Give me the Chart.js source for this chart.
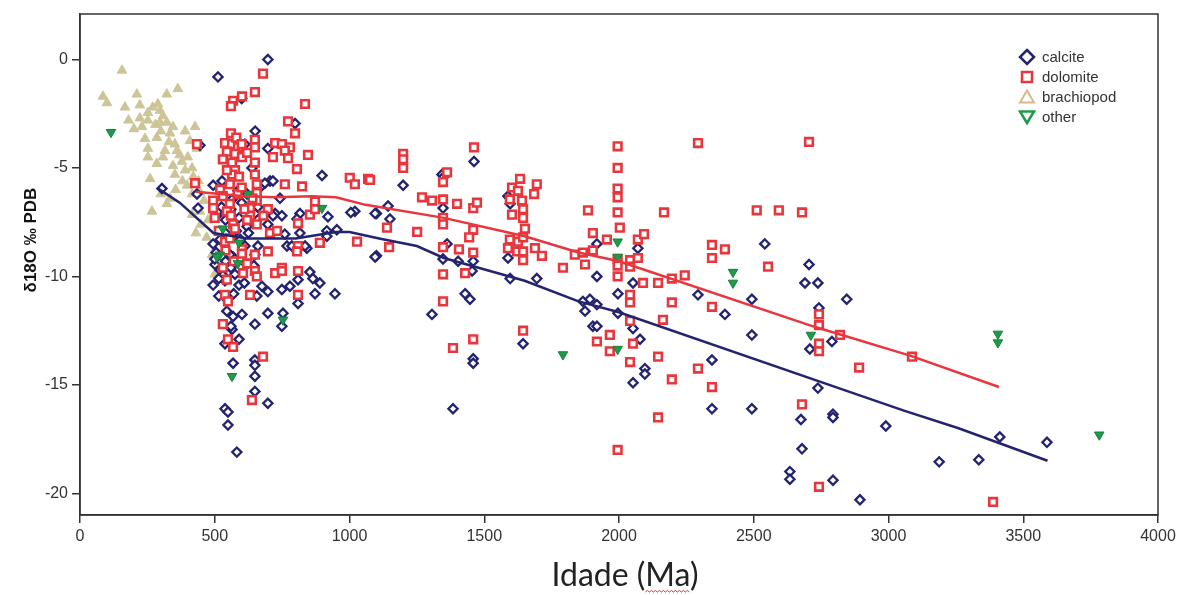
<!DOCTYPE html>
<html>
<head>
<meta charset="utf-8">
<script src="https://cdn.jsdelivr.net/npm/chart.js@4.4.1/dist/chart.umd.min.js"></script>
<style>
  html, body { margin: 0; padding: 0; background: #ffffff; }
  #wrap { width: 1180px; height: 595px; position: relative; }
</style>
</head>
<body>
<div id="wrap"><canvas id="c" width="1180" height="595"></canvas></div>
<script>
// ---------------- DATA ----------------
const xTicks = [0, 500, 1000, 1500, 2000, 2500, 3000, 3500, 4000];
const yTicks = [-20, -15, -10, -5, 0];
const seriesNames = ['calcite', 'dolomite', 'brachiopod', 'other'];

const calciteAge = [697,512,600,798,650,445,612,697,898,638,705,668,494,527,586,434,438,508,512,742,
  724,749,816,920,1020,1100,697,768,916,816,1100,494,568,649,842,545,612,916,501,556,
  619,494,538,675,697,656,749,779,809,853,864,890,872,946,809,545,568,601,697,649,
  753,749,564,538,568,649,649,649,649,697,538,549,549,582,649,716,805,564,760,953,
  786,835,660,686,716,1462,1343,1199,1143,1095,1150,1095,1347,1362,1347,1403,1459,1455,1429,1447,
  1306,1459,1459,1384,1588,1596,1588,1596,1695,1644,1918,1918,1866,1892,1918,1874,1903,1918,1996,1996,
  2070,2052,2052,2078,2096,2096,2052,2293,2393,2345,2345,2493,2493,2493,2541,2705,2690,2738,2742,2708,
  2790,2738,2675,2679,2634,2634,2794,2794,2794,2845,2990,2894,3188,3335,3413,3588,304,
  520,530,515,540,560,575,505,550,580,540,525,560,590,620,600,620,660,500,590,570,
  610,625,540,520,595,560,590,540,515,1005,1350,645];
const calciteD18O = [0.0,-0.8,-1.8,-2.95,-3.3,-3.95,-3.9,-4.1,-5.35,-5.0,-5.6,-5.9,-5.8,-5.6,-6.05,-6.2,-6.85,-7.2,-7.0,-6.4,
  -7.1,-7.2,-7.1,-7.25,-7.0,-7.1,-7.6,-8.6,-7.9,-8.0,-9.05,-8.5,-9.1,-9.0,-8.7,-8.85,-8.6,-8.15,-9.45,-9.0,
  -9.45,-10.4,-10.2,-10.45,-10.7,-10.9,-10.6,-10.45,-10.15,-9.8,-10.1,-10.3,-10.8,-10.8,-11.25,-11.6,-11.85,-11.75,-11.7,-12.2,
  -11.7,-12.3,-12.45,-13.1,-14.0,-13.85,-14.1,-14.6,-15.3,-15.85,-16.1,-16.25,-16.85,-18.1,-7.1,-7.2,-7.35,-6.45,-8.05,-7.85,
  -8.6,-8.6,-8.6,-5.7,-5.6,-4.7,-5.3,-5.8,-6.75,-7.1,-7.35,-9.1,-6.85,-8.5,-9.2,-9.3,-9.3,-9.75,-10.8,-11.05,
  -11.75,-13.8,-14.0,-16.1,-6.3,-6.65,-9.15,-10.1,-10.1,-13.1,-8.5,-10.0,-11.15,-11.05,-11.3,-11.6,-12.3,-12.3,-10.8,-11.7,
  -8.7,-10.3,-12.4,-12.9,-14.25,-14.5,-14.9,-10.85,-11.75,-13.85,-16.1,-11.05,-12.7,-16.1,-8.5,-9.45,-10.3,-10.3,-11.45,-13.35,
  -13.0,-15.15,-16.6,-17.95,-19.0,-19.35,-16.35,-16.5,-19.4,-11.05,-16.9,-20.3,-18.55,-18.45,-17.4,-17.65,-5.95,
  -9.7,-9.95,-10.1,-9.3,-9.6,-9.9,-8.9,-8.2,-7.9,-7.4,-6.8,-6.9,-7.3,-7.7,-6.6,-6.2,-6.8,-9.2,-10.4,-10.8,
  -10.3,-8.0,-8.0,-8.3,-8.3,-12.3,-12.9,-11.0,-10.9,-7.05,-5.4,-9.5];

const dolomiteAge = [679,649,601,568,560,835,772,798,560,538,649,724,749,564,586,649,545,779,575,716,
  760,846,564,601,649,772,805,575,1001,1020,1069,824,872,853,872,760,697,494,494,556,
  631,631,656,656,656,649,556,564,568,575,656,705,731,809,809,890,1028,538,601,749,
  697,434,427,530,605,649,656,724,749,809,545,538,549,631,809,530,549,568,679,638,
  556,601,649,805,1462,1199,1199,1199,1362,1347,1076,1269,1306,1347,1399,1459,1473,1347,1347,1139,
  1251,1147,1459,1444,1347,1406,1459,1429,1347,1347,1459,1384,1633,1695,1603,1625,1685,1595,1640,1644,
  1603,1644,1651,1595,1625,1644,1588,1622,1644,1688,1714,1644,1644,1885,1903,1955,1836,1866,1903,1792,
  1874,1966,1918,1966,1995,1995,1995,1995,1995,2003,1995,1995,1995,1995,2041,2041,2041,2041,2070,2093,
  2070,2089,2041,2052,2041,2145,2145,2145,2163,2196,2196,2244,2196,2167,2293,2293,2345,2345,2393,2345,
  2345,2511,2593,2679,2705,2553,2679,2742,2742,2742,2742,2820,2742,2891,3087,3388,
  520,530,545,560,585,590,600,610,620,640,545,530,580,600,620,500,515,540,570,620,680];
const dolomiteD18O = [-0.65,-1.5,-1.7,-1.9,-2.15,-2.05,-2.85,-3.4,-3.4,-3.85,-3.7,-3.85,-3.9,-3.9,-4.05,-4.05,-4.25,-4.05,-4.35,-4.5,
  -4.2,-4.4,-4.75,-4.5,-4.75,-4.55,-5.05,-5.1,-5.45,-5.75,-5.5,-5.85,-6.55,-7.15,-6.9,-5.75,-6.9,-6.5,-6.85,-6.65,
  -6.85,-7.2,-6.5,-6.15,-5.75,-5.3,-5.75,-5.3,-7.6,-7.8,-7.6,-8.0,-7.9,-7.55,-8.6,-8.45,-8.4,-8.4,-8.75,-9.6,
  -8.85,-3.9,-5.7,-9.6,-9.85,-9.75,-10.0,-9.85,-9.75,-9.75,-10.15,-10.85,-11.15,-10.85,-10.85,-12.2,-12.9,-13.25,-13.7,-15.7,
  -8.25,-8.95,-9.0,-8.85,-4.05,-4.35,-4.6,-5.0,-5.2,-5.65,-5.55,-6.35,-6.5,-6.45,-6.65,-6.85,-6.6,-7.3,-7.6,-7.75,
  -7.95,-8.65,-7.85,-8.2,-8.65,-8.75,-8.9,-9.85,-9.9,-11.15,-12.9,-13.3,-5.5,-5.75,-5.9,-6.05,-6.2,-6.45,-6.5,-6.9,
  -7.15,-7.3,-7.8,-8.3,-8.4,-8.2,-8.7,-8.85,-8.85,-8.7,-9.05,-9.25,-12.5,-6.95,-8.0,-8.3,-9.0,-8.9,-8.8,-9.6,
  -9.45,-12.7,-13.0,-13.45,-4.0,-5.0,-5.95,-6.35,-7.05,-7.75,-9.2,-9.5,-10.0,-18.0,-9.25,-9.55,-10.85,-11.2,-8.3,-8.05,
  -9.15,-10.3,-12.05,-13.1,-13.95,-10.3,-13.7,-16.5,-12.0,-10.1,-11.2,-9.95,-14.75,-7.05,-3.85,-14.25,-8.55,-9.15,-8.75,-11.4,
  -15.1,-6.95,-6.95,-7.05,-3.8,-9.55,-15.9,-11.75,-12.25,-13.1,-13.45,-12.7,-19.7,-14.2,-13.7,-20.4,
  -6.0,-6.3,-7.0,-7.2,-6.2,-5.4,-5.9,-6.9,-7.4,-6.4,-5.1,-4.6,-3.6,-3.9,-4.3,-7.3,-7.9,-8.8,-9.3,-9.4,-7.2];

const brachiopodAge = [156,85,100,211,167,222,322,363,289,297,308,252,222,252,322,297,345,334,390,427,
  241,285,252,315,352,360,408,434,252,285,308,345,378,390,352,260,416,397,334,322,
  267,416,445,445,416,448,470,490,500,430,270,280,300,330,370,400,420,440,380,355,
  300,460,475,180,200,230];
const brachiopodD18O = [-0.5,-1.7,-2.0,-1.6,-2.2,-2.1,-1.6,-1.35,-2.05,-2.35,-2.6,-2.45,-2.7,-2.8,-2.9,-2.9,-3.1,-3.4,-3.3,-3.1,
  -3.65,-3.6,-4.1,-4.2,-3.9,-4.2,-3.75,-4.1,-4.5,-4.8,-4.5,-4.9,-4.7,-5.1,-5.3,-5.5,-5.0,-5.8,-6.4,-6.65,
  -7.0,-6.2,-6.1,-7.0,-7.15,-7.6,-8.2,-9.0,-9.9,-8.0,-2.2,-3.0,-3.3,-3.8,-4.4,-4.5,-5.4,-5.6,-5.6,-6.0,
  -6.2,-6.5,-7.4,-2.8,-3.2,-3.1];

const otherAge = [115,623,898,530,590,519,586,753,564,1792,1995,1995,1995,2423,2423,2712,3406,3406,3782,508];
const otherD18O = [-3.35,-6.2,-6.85,-7.8,-8.45,-9.0,-9.4,-12.0,-14.6,-13.6,-8.4,-9.1,-13.35,-9.8,-10.3,-12.7,-12.65,-13.05,-17.3,-9.1];

// trend lines
const calciteTrendAge = [290,370,495,620,800,950,1000,1110,1250,1350,1650,1850,2000,2850,3060,3260,3590];
const calciteTrendD18O = [-5.95,-6.6,-8.0,-8.25,-8.25,-7.95,-7.95,-8.25,-8.6,-9.15,-10.2,-11.15,-11.65,-15.3,-16.2,-17.0,-18.5];
const dolomiteTrendAge = [430,610,725,860,950,1060,1350,1650,1850,2000,2720,3080,3410];
const dolomiteTrendD18O = [-6.1,-6.3,-6.35,-6.3,-6.35,-6.7,-7.3,-8.15,-8.9,-9.3,-12.3,-13.65,-15.1];

// ---------------- STYLE ----------------
const NAVY = '#23236f';
const RED = '#e8363d';
const TAN = '#cdc597';
const GREEN = '#1f9a4a';
const AXIS = '#333333';

const pts = (xs, ys) => xs.map((x, i) => ({ x: x, y: ys[i] }));

const framePlugin = {
  id: 'frame',
  afterDraw(chart) {
    const { ctx, chartArea: a } = chart;
    ctx.save();
    ctx.strokeStyle = AXIS;
    ctx.lineWidth = 1.5;
    ctx.strokeRect(a.left, a.top, a.right - a.left, a.bottom - a.top);

    // y title
    ctx.fillStyle = '#111';
    ctx.font = 'bold 17px "Liberation Sans", Arial, sans-serif';
    ctx.textAlign = 'center';
    ctx.textBaseline = 'middle';
    ctx.save();
    ctx.translate(31, 240);
    ctx.rotate(-Math.PI / 2);
    ctx.fillText('δ18O ‰ PDB', 0, 0);
    ctx.restore();

    // x title
    ctx.font = '32px Lato, "Open Sans", sans-serif';
    ctx.fillStyle = '#222';
    ctx.textAlign = 'center';
    ctx.textBaseline = 'middle';
    const title = 'Idade (Ma)';
    const cx = 625, cy = 576;
    ctx.fillText(title, cx, cy);
    // spell-check squiggle under "Ma"
    const full = ctx.measureText(title).width;
    const pre = ctx.measureText('Idade (').width;
    const ma = ctx.measureText('Ma').width;
    const sx = cx - full / 2 + pre, ex = sx + ma;
    ctx.strokeStyle = '#e03030';
    ctx.lineWidth = 1;
    ctx.beginPath();
    let up = true;
    ctx.moveTo(sx, 592);
    for (let x = sx + 2; x <= ex; x += 2) { ctx.lineTo(x, up ? 590.5 : 592); up = !up; }
    ctx.stroke();

    // legend
    const lx = 1027, tx = 1042;
    const rows = [57, 77, 97, 117];
    ctx.font = '15px "Liberation Sans", Arial, sans-serif';
    ctx.textAlign = 'left';
    ctx.textBaseline = 'middle';
    rows.forEach((y, i) => {
      ctx.beginPath();
      ctx.fillStyle = '#ffffff';
      if (i === 0) {
        ctx.strokeStyle = NAVY; ctx.lineWidth = 2.5;
        ctx.moveTo(lx, y - 7); ctx.lineTo(lx + 7, y); ctx.lineTo(lx, y + 7); ctx.lineTo(lx - 7, y); ctx.closePath();
      } else if (i === 1) {
        ctx.strokeStyle = RED; ctx.lineWidth = 2.5;
        ctx.rect(lx - 5, y - 5, 10, 10);
      } else if (i === 2) {
        ctx.strokeStyle = '#d9b98c'; ctx.lineWidth = 2;
        ctx.moveTo(lx, y - 6.5); ctx.lineTo(lx + 7, y + 5.5); ctx.lineTo(lx - 7, y + 5.5); ctx.closePath();
      } else {
        ctx.strokeStyle = GREEN; ctx.lineWidth = 2.5;
        ctx.moveTo(lx, y + 6); ctx.lineTo(lx + 7, y - 5.5); ctx.lineTo(lx - 7, y - 5.5); ctx.closePath();
      }
      ctx.fill(); ctx.stroke();
      ctx.fillStyle = '#333';
      ctx.fillText(seriesNames[i], tx, y + 1);
    });
    ctx.restore();
  }
};

const ctx = document.getElementById('c').getContext('2d');
new Chart(ctx, {
  type: 'scatter',
  data: {
    datasets: [
      { label: 'calcite trend', type: 'line', data: pts(calciteTrendAge, calciteTrendD18O),
        borderColor: NAVY, borderWidth: 2.5, pointRadius: 0, fill: false, tension: 0, order: 0 },
      { label: 'dolomite trend', type: 'line', data: pts(dolomiteTrendAge, dolomiteTrendD18O),
        borderColor: RED, borderWidth: 2.5, pointRadius: 0, fill: false, tension: 0, order: 0 },
      { label: seriesNames[3], data: pts(otherAge, otherD18O), pointStyle: 'triangle', rotation: 180,
        pointRadius: 5.5, backgroundColor: GREEN, borderColor: '#17803b', borderWidth: 1, order: 1 },
      { label: seriesNames[1], data: pts(dolomiteAge, dolomiteD18O), pointStyle: 'rect',
        pointRadius: 5.4, backgroundColor: '#ffffff', borderColor: RED, borderWidth: 2.6, order: 2 },
      { label: seriesNames[0], data: pts(calciteAge, calciteD18O), pointStyle: 'rectRot',
        pointRadius: 4.6, backgroundColor: '#ffffff', borderColor: NAVY, borderWidth: 2.3, order: 3 },
      { label: seriesNames[2], data: pts(brachiopodAge, brachiopodD18O), pointStyle: 'triangle',
        pointRadius: 5.6, backgroundColor: TAN, borderColor: TAN, borderWidth: 1, order: 4 }
    ]
  },
  options: {
    responsive: false,
    animation: false,
    events: [],
    layout: { padding: { left: 0, top: 14, right: 22, bottom: 0 } },
    plugins: { legend: { display: false }, tooltip: { enabled: false }, title: { display: false } },
    scales: {
      x: {
        type: 'linear', min: 0, max: 4000,
        afterFit: s => { s.height = 80; },
        afterBuildTicks: s => { s.ticks = xTicks.map(v => ({ value: v })); },
        grid: { display: true, drawOnChartArea: false, drawTicks: true, tickLength: 8, color: AXIS, lineWidth: 1.5 },
        border: { display: true, color: AXIS, width: 1.5 },
        ticks: { color: '#333', font: { family: '"Liberation Sans", Arial, sans-serif', size: 16 }, padding: 4,
                 maxRotation: 0, callback: v => String(v) }
      },
      y: {
        type: 'linear', min: -21, max: 2.1,
        afterFit: s => { s.width = 80; },
        afterBuildTicks: s => { s.ticks = yTicks.map(v => ({ value: v })); },
        grid: { display: true, drawOnChartArea: false, drawTicks: true, tickLength: 8, color: AXIS, lineWidth: 1.5 },
        border: { display: true, color: AXIS, width: 1.5 },
        ticks: { color: '#333', font: { family: '"Liberation Sans", Arial, sans-serif', size: 16 }, padding: 4,
                 callback: v => String(v) }
      }
    }
  },
  plugins: [framePlugin]
});
</script>
</body>
</html>
